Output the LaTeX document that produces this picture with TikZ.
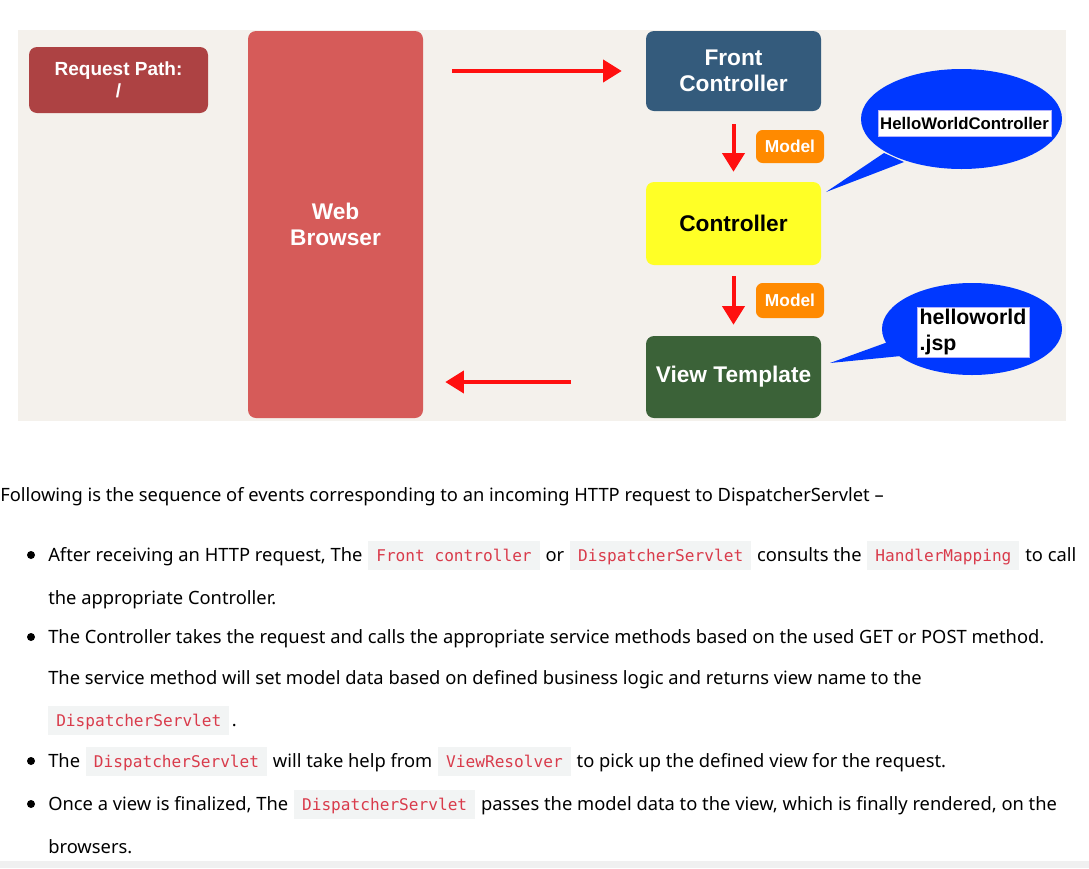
\documentclass[tikz,border=0pt]{standalone}
\usepackage{fontspec}
\setmainfont{Noto Sans}
\newfontfamily\diafont{Liberation Sans}
\newfontfamily\mycodefont{DejaVu Sans Mono}
\usetikzlibrary{arrows.meta,shapes.geometric}
\definecolor{bgcream}{HTML}{F4F1EC}
\definecolor{reqred}{HTML}{AD4243}
\definecolor{browserred}{HTML}{D65B59}
\definecolor{frontblue}{HTML}{345B7C}
\definecolor{ctrlyellow}{HTML}{FFFF26}
\definecolor{modelorange}{HTML}{FF8A00}
\definecolor{viewgreen}{HTML}{3B6238}
\definecolor{bubblue}{HTML}{0038FF}
\definecolor{arrred}{HTML}{FF1010}
\definecolor{codebg}{HTML}{F2F4F4}
\definecolor{codered}{HTML}{D93B4B}
\begin{document}
\begin{tikzpicture}[x=0.75pt,y=-0.75pt,
 box/.style={rounded corners=6pt, inner sep=0pt, align=center, font=\diafont\bfseries\fontsize{17}{20}\selectfont, text=white},
 modelbox/.style={rounded corners=5pt, fill=modelorange, inner sep=0pt, minimum width=51pt, font=\diafont\bfseries\fontsize{13}{15}\selectfont, text=white},
 arr/.style={draw=arrred, line width=3pt, -{Triangle[length=14pt,width=16.5pt]}},
 txt/.style={inner sep=0pt, anchor=base west, font=\fontsize{13.75}{16}\selectfont},
 code/.style={fill=codebg, text=codered, font=\mycodefont\fontsize{12.1}{14}\selectfont, inner xsep=6pt, inner ysep=0pt, text height=15pt, text depth=6.75pt, anchor=base west},
 bubble/.style={ellipse, fill=bubblue, inner sep=0pt},
 bublabel/.style={fill=white, draw=blue!30, line width=0.4pt, text=black, font=\diafont\bfseries},
 bulletdot/.style={circle, fill=black, inner sep=0pt, minimum size=6pt}
]
\useasboundingbox (0,0) rectangle (1089,868);
\fill[white] (0,0) rectangle (1089,868);
% diagram background
\fill[bgcream] (18,30) rectangle (1066,421);

% boxes
\node[box, fill=reqred, minimum width=134.25pt, minimum height=49.5pt, font=\diafont\bfseries\fontsize{14.25}{16.5}\selectfont] (req) at (118.5,80) {Request Path:\\/};
\node[box, fill=browserred, minimum width=131.25pt, minimum height=290.25pt] (wb) at (335.5,224.5) {Web\\Browser};
\node[box, fill=frontblue, minimum width=131.25pt, minimum height=60pt, font=\diafont\bfseries\fontsize{17}{19.5}\selectfont] (fc) at (733.5,71) {Front\\Controller};
\node[box, fill=ctrlyellow, text=black, minimum width=131.25pt, minimum height=62.25pt] (ctrl) at (733.5,223.5) {Controller};
\node[box, fill=viewgreen, minimum width=131.25pt, minimum height=61.5pt] (vt) at (733.5,377) {View Template};

\node[modelbox, minimum height=24.75pt] (m1) at (790,146.5) {Model};
\node[modelbox, minimum height=26.25pt] (m2) at (790,300.5) {Model};

% arrows
\draw[arr, shorten <=21.75pt, shorten >=18pt] (wb.east |- fc.west) -- (fc.west);
\draw[arr, shorten <=9.75pt, shorten >=7.5pt] (fc.south) -- (ctrl.north);
\draw[arr, shorten <=8.25pt, shorten >=8.25pt] (ctrl.south) -- (vt.north);
\draw[arr, shorten <=56pt, shorten >=16.5pt] ([yshift=-3.75pt]vt.west) -- ([yshift=-3.75pt]vt.west -| wb.east);

% bubbles
\fill[bubblue] (884,153) -- (826,192) -- (904,162) -- cycle;
\node[bubble, minimum width=150.75pt, minimum height=75pt] (bub1) at (961.5,119) {};
\node[bublabel, inner xsep=1.5pt, inner ysep=0pt, minimum height=19.5pt, font=\diafont\bfseries\fontsize{12.6}{14}\selectfont] (hwc) at (964.5,123) {HelloWorldController};

\fill[bubblue] (888,342) -- (830,363) -- (901,356) -- cycle;
\node[bubble, minimum width=135pt, minimum height=69pt] (bub2) at (972,329) {};
\node[bublabel, align=left, inner xsep=1pt, inner ysep=1.5pt, minimum width=84pt, minimum height=37.5pt, font=\diafont\bfseries\fontsize{16}{19.5}\selectfont] (jsp) at (973,332) {helloworld\\.jsp};

% text
\node[txt] (l0) at (0,501) {Following is the sequence of events corresponding to an incoming HTTP request to DispatcherServlet –};

\node[bulletdot] (b1) at (31,555) {};
\node[txt] (l1a) at (48,561) {After receiving an HTTP request, The};
\node[code] (l1b) at ([xshift=4pt]l1a.base east) {Front controller};
\node[txt] (l1c) at ([xshift=4pt]l1b.base east) {or};
\node[code] (l1d) at ([xshift=4pt]l1c.base east) {DispatcherServlet};
\node[txt] (l1e) at ([xshift=4pt]l1d.base east) {consults the};
\node[code] (l1f) at ([xshift=4pt]l1e.base east) {HandlerMapping};
\node[txt] (l1g) at ([xshift=4pt]l1f.base east) {to call};
\node[txt] (l2) at (48,604) {the appropriate Controller.};

\node[bulletdot] (b2) at (31,637) {};
\node[txt] (l3) at (48,643) {The Controller takes the request and calls the appropriate service methods based on the used GET or POST method.};
\node[txt] (l4) at (48,684) {The service method will set model data based on defined business logic and returns view name to the};
\node[code] (l5a) at (48,726) {DispatcherServlet};
\node[txt] (l5b) at ([xshift=1.5pt]l5a.base east) {.};

\node[bulletdot] (b3) at (31,761) {};
\node[txt] (l6a) at (48,767) {The};
\node[code] (l6b) at ([xshift=4pt]l6a.base east) {DispatcherServlet};
\node[txt] (l6c) at ([xshift=4pt]l6b.base east) {will take help from};
\node[code] (l6d) at ([xshift=4pt]l6c.base east) {ViewResolver};
\node[txt] (l6e) at ([xshift=4pt]l6d.base east) {to pick up the defined view for the request.};

\node[bulletdot] (b4) at (31,804) {};
\node[txt] (l7a) at (48,810) {Once a view is finalized, The};
\node[code] (l7b) at ([xshift=4pt]l7a.base east) {DispatcherServlet};
\node[txt] (l7c) at ([xshift=4pt]l7b.base east) {passes the model data to the view, which is finally rendered, on the};
\node[txt] (l8) at (48,853) {browsers.};

\fill[black!6] (0,861) rectangle (1089,868);
\end{tikzpicture}
\end{document}
